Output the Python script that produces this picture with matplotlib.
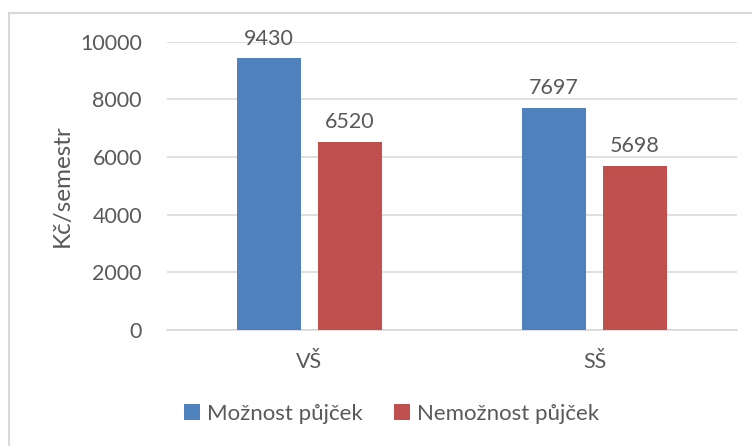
import matplotlib.pyplot as plt
from matplotlib.patches import Rectangle
import numpy as np

plt.rcParams['font.family'] = ['Lato', 'DejaVu Sans']

categories = ['VŠ', 'SŠ']
serie_names = ['Možnost půjček', 'Nemožnost půjček']
moznost = [9430, 7697]
nemoznost = [6520, 5698]
colors = ['#4F81BD', '#C0504D']
text_color = '#595959'

fig = plt.figure(figsize=(7.52, 4.46), dpi=100)
ax = fig.add_axes([0.222, 0.261, 0.758, 0.645])

x = np.arange(len(categories))
w = 0.225
b1 = ax.bar(x - 0.142, moznost, w, color=colors[0], label=serie_names[0], zorder=3)
b2 = ax.bar(x + 0.142, nemoznost, w, color=colors[1], label=serie_names[1], zorder=3)
for bars in (b1, b2):
    ax.bar_label(bars, padding=7, fontsize=15.5, color=text_color)

ax.set_xlim(-0.5, 1.5)
ax.set_ylim(0, 10000)
ax.set_yticks(range(0, 10001, 2000))
ax.set_xticks(x)
ax.set_xticklabels(categories)
ax.grid(axis='y', color='#D9D9D9', linewidth=1.2, zorder=0)
for s in ['top', 'right', 'left']:
    ax.spines[s].set_visible(False)
ax.spines['bottom'].set_color('#D9D9D9')
ax.spines['bottom'].set_linewidth(1.2)
ax.tick_params(length=0, labelsize=15.5, colors=text_color)
ax.tick_params(axis='y', pad=18)
ax.tick_params(axis='x', pad=16)
ax.set_ylabel('Kč/semestr', fontsize=17.5, color=text_color, labelpad=5)

ax.legend(loc='center', bbox_to_anchor=(0.521, 0.072), bbox_transform=fig.transFigure,
          ncol=2, frameon=False, fontsize=16, labelcolor=text_color,
          handlelength=0.7, handleheight=0.7, handletextpad=0.35, columnspacing=1.4)

fig.patches.append(Rectangle((9 / 752, -0.1), 1.2, 1.1 - 13 / 446, transform=fig.transFigure,
                             fill=False, edgecolor='#D9D9D9', linewidth=1.5))

fig.savefig('out.png', dpi=100)
